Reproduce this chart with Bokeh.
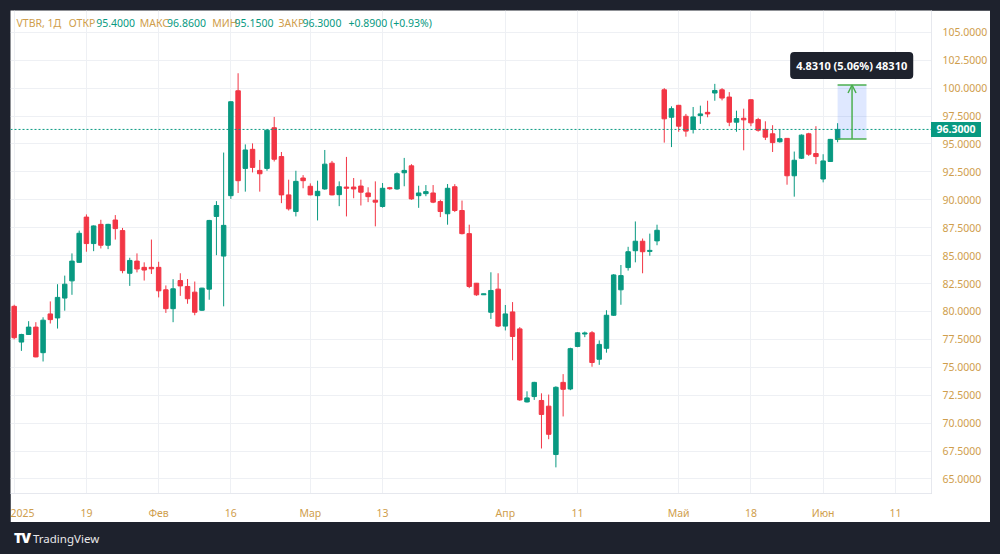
from bokeh.plotting import figure
from bokeh.models import (Range1d, FixedTicker, NumeralTickFormatter, Span, Label,
                          Arrow, OpenHead, Div, ColumnDataSource)
from bokeh.layouts import column
from bokeh.embed import file_html
from bokeh.resources import INLINE

# ---------------- data (VTBR, daily) ----------------
opens = [80.46, 77.26, 77.94, 78.60, 76.31, 79.78, 79.42, 81.20, 82.74, 84.40,
         88.45, 86.08, 87.80, 85.93, 88.19, 87.24, 83.42, 84.51, 83.95, 83.95,
         83.95, 81.94, 80.25, 82.77, 82.24, 81.73, 80.11, 82.00, 88.51, 84.96,
         90.37, 99.76, 92.81, 94.52, 92.63, 92.81, 96.45, 93.87, 90.44, 88.95,
         91.95, 91.21, 90.37, 90.97, 93.28, 90.46, 91.14, 91.14, 91.23, 90.61,
         89.96, 89.40, 91.08, 90.97, 92.42, 93.04, 90.37, 90.55, 90.61, 89.84,
         88.75, 91.17, 89.04, 86.97, 82.53, 81.52, 79.93, 82.00, 78.69, 79.96,
         78.44, 71.90, 72.38, 72.03, 71.52, 67.19, 73.65, 73.06, 76.87, 77.98,
         78.09, 75.72, 76.70, 79.66, 81.94, 83.93, 85.44, 86.29, 85.38, 86.32,
         99.85, 97.39, 98.46, 97.48, 96.30, 97.54, 97.83, 99.56, 99.85, 99.20,
         96.95, 97.30, 98.96, 97.18, 96.30, 95.91, 95.20, 95.50, 92.15, 93.72,
         95.91, 94.14, 91.86, 93.43, 95.40]
highs = [80.60, 78.00, 79.13, 79.04, 79.48, 80.90, 82.44, 83.21, 85.20, 87.24,
         88.69, 87.70, 88.21, 87.85, 88.63, 87.48, 84.81, 85.20, 84.40, 86.44,
         84.45, 82.33, 82.89, 83.42, 82.91, 82.68, 82.12, 88.20, 89.88, 94.23,
         98.80, 101.33, 94.96, 95.05, 93.57, 96.30, 97.42, 94.28, 91.80, 92.60,
         92.21, 91.47, 91.71, 94.46, 93.48, 91.65, 93.84, 91.95, 91.80, 91.12,
         91.65, 91.50, 91.15, 92.45, 93.75, 93.19, 91.26, 91.32, 91.32, 90.00,
         91.41, 91.40, 89.93, 87.77, 82.55, 81.58, 83.51, 83.42, 80.58, 80.84,
         78.60, 72.85, 73.70, 72.67, 72.56, 73.30, 74.39, 76.75, 78.15, 78.20,
         78.24, 77.41, 80.11, 83.35, 84.16, 85.79, 88.06, 86.53, 86.97, 87.77,
         100.00, 98.37, 98.50, 97.69, 98.31, 98.43, 98.87, 100.38, 100.00, 99.64,
         97.98, 98.16, 98.98, 97.34, 97.03, 96.68, 96.30, 95.52, 94.32, 95.85,
         96.00, 96.59, 94.08, 95.45, 96.86]
lows = [77.50, 76.47, 77.90, 75.90, 75.52, 78.92, 78.47, 80.07, 81.49, 84.35,
        85.35, 85.40, 85.64, 85.58, 86.44, 83.42, 82.29, 83.50, 82.77, 83.36,
        81.26, 79.87, 79.04, 81.40, 80.69, 79.66, 80.05, 81.05, 85.04, 80.46,
        90.08, 90.61, 90.73, 92.45, 90.73, 92.60, 93.43, 89.70, 89.04, 88.51,
        91.03, 90.40, 88.15, 90.90, 90.40, 89.43, 88.51, 90.14, 89.49, 89.79,
        87.62, 89.30, 90.90, 90.90, 91.21, 90.00, 89.28, 90.32, 89.70, 88.45,
        87.77, 88.90, 86.90, 82.09, 81.40, 81.50, 79.33, 78.60, 78.30, 75.63,
        72.00, 71.85, 72.08, 67.73, 68.56, 66.04, 70.60, 72.95, 76.80, 77.70,
        75.05, 75.22, 76.31, 79.60, 80.60, 83.66, 84.40, 83.42, 84.99, 85.93,
        95.12, 94.72, 96.09, 95.65, 95.94, 96.80, 97.39, 98.87, 98.90, 96.59,
        96.09, 94.43, 96.59, 96.10, 95.35, 94.28, 95.12, 91.35, 90.28, 93.65,
        93.93, 93.19, 91.56, 93.40, 95.15]
closes = [77.65, 77.94, 78.60, 75.93, 79.22, 79.27, 81.26, 82.44, 84.51, 87.00,
          86.08, 87.66, 85.93, 87.80, 87.42, 83.66, 84.57, 83.80, 83.71, 83.82,
          81.85, 80.25, 82.03, 82.29, 81.14, 79.93, 82.09, 88.15, 89.49, 87.71,
          98.78, 91.71, 94.46, 92.90, 92.33, 96.23, 93.63, 90.44, 89.19, 91.65,
          91.71, 90.44, 90.76, 93.19, 90.44, 91.17, 91.03, 90.97, 90.68, 90.28,
          89.79, 91.03, 90.99, 92.33, 92.63, 90.08, 90.61, 90.73, 89.79, 88.95,
          91.03, 89.04, 86.97, 82.24, 81.49, 81.56, 81.88, 78.69, 79.78, 77.76,
          72.08, 72.26, 73.65, 70.78, 69.00, 73.21, 73.03, 76.67, 78.09, 78.08,
          75.43, 77.05, 79.66, 83.27, 83.21, 85.35, 86.29, 85.35, 85.47, 87.27,
          97.25, 98.16, 96.59, 96.15, 97.42, 97.69, 97.69, 99.79, 99.11, 96.95,
          97.27, 97.16, 96.89, 96.23, 95.61, 95.12, 95.47, 92.15, 93.54, 95.79,
          94.08, 93.87, 93.48, 95.41, 96.30]

# date tick positions (bar index) and their labels
tick_pos = [0, 10, 20, 30, 41, 51, 68, 78, 92, 102, 112, 122]
tick_labels = ["2025", "19", "Фев", "16", "Мар", "13", "Апр", "11", "Май", "18", "Июн", "11"]
price_ticks = [65.0, 67.5, 70.0, 72.5, 75.0, 77.5, 80.0, 82.5, 85.0, 87.5,
               90.0, 92.5, 95.0, 97.5, 100.0, 102.5, 105.0]

# measure tool
measure_from = 95.45
measure_delta = 4.831
measure_text = "4.8310 (5.06%) 48310"

header_parts = [("VTBR, 1Д", "lab", 16), ("ОТКР", "lab", 68.3), ("95.4000", "val", 95.7),
                ("МАКС", "lab", 139.3), ("96.8600", "val", 166.7),
                ("МИН", "lab", 212.0), ("95.1500", "val", 234.3),
                ("ЗАКР", "lab", 278.3), ("96.3000", "val", 302.3),
                ("+0.8900 (+0.93%)", "val", 348.3)]

# ---------------- styling ----------------
UP = "#089981"
DOWN = "#f23645"
GOLD = "#cf9e4c"
DARK = "#1e222d"
FONT = "Noto Sans"
X_END = 127.0
Y_LO, Y_HI = 63.70, 106.95

# page pixel -> data helpers for annotations
def px_x(px):
    return (px - 13.67) / 7.23

def px_y(py):
    return 100.0 - (py - 88.3) / 11.26

n = len(closes)
xs = list(range(n))
colors = [UP if c >= o else DOWN for o, c in zip(opens, closes)]
tops, bots = [], []
for o, c in zip(opens, closes):
    t, b = max(o, c), min(o, c)
    if t - b < 0.09:
        m = (t + b) / 2
        t, b = m + 0.045, m - 0.045
    tops.append(t)
    bots.append(b)

src = ColumnDataSource(dict(x=xs, open=opens, high=highs, low=lows, close=closes,
                            top=tops, bot=bots, color=colors))

FIG_TOP, FIG_H, FRAME_H = 10, 512, 487
p = figure(width=980, height=FIG_H, x_range=Range1d(-0.51, X_END), y_range=Range1d(Y_LO, Y_HI),
           y_axis_location="right", toolbar_location=None, output_backend="svg",
           min_border_left=0, min_border_right=58, min_border_top=0, min_border_bottom=25,
           background_fill_color="white", border_fill_color="white", outline_line_color=None,
           margin=(FIG_TOP, 10, 0, 10))

xt = FixedTicker(ticks=tick_pos)
yt = FixedTicker(ticks=price_ticks)
p.xaxis.ticker = xt
p.xaxis.major_label_overrides = {k: v for k, v in zip(tick_pos, tick_labels)}
p.yaxis.ticker = yt
p.yaxis.formatter = NumeralTickFormatter(format="0.0000")
p.xgrid.ticker = xt
p.ygrid.ticker = yt
p.xgrid.grid_line_color = "#eef0f4"
p.ygrid.grid_line_color = "#eef0f4"
for ax in (p.xaxis[0], p.yaxis[0]):
    ax.axis_line_color = "#e6e8ee"
    ax.major_tick_line_color = None
    ax.minor_tick_line_color = None
    ax.major_label_text_color = GOLD
    ax.major_label_text_font = FONT
    ax.major_label_text_font_size = "10.5px"
p.yaxis.major_label_standoff = 5
p.xaxis.major_label_standoff = 6

# candles
p.segment(x0="x", y0="high", x1="x", y1="low", line_color="color", line_width=1, source=src)
p.vbar(x="x", width=0.62, top="top", bottom="bot", fill_color="color", line_color="color",
       line_width=1, source=src)

# current price line
p.add_layout(Span(location=closes[-1], dimension="width", line_color=UP, line_dash="2 2",
                  line_width=1))

# measure tool
last = n - 1
m_lo = measure_from
m_hi = measure_from + measure_delta
p.quad(left=last, right=last + 4, bottom=m_lo, top=m_hi, fill_color="#2962ff",
       fill_alpha=0.15, line_color=None)
p.segment(x0=[last, last], y0=[m_lo, m_hi], x1=[last + 4, last + 4], y1=[m_lo, m_hi],
          line_color="#4caf50", line_width=1.5)
p.add_layout(Arrow(end=OpenHead(size=8, line_color="#4caf50", line_width=1.5),
                   x_start=last + 2, y_start=m_lo, x_end=last + 2, y_end=m_hi,
                   line_color="#4caf50", line_width=1.5))
p.add_layout(Label(x=px_x(852), y=px_y(65.5), text=measure_text, text_align="center",
                   text_baseline="middle", text_color="white", text_font=FONT,
                   text_font_size="11px", text_font_style="bold",
                   background_fill_color="#1e222d", border_radius=4, padding=6))

# header
for txt, kind, px in header_parts:
    p.add_layout(Label(x=px_x(px), y=px_y(22.7), text=txt, text_align="left",
                       text_baseline="middle", text_color=GOLD if kind == "lab" else UP,
                       text_font=FONT, text_font_size="10.5px"))

# price tag on the price axis (HTML overlay, since annotations are clipped to the frame)
tag_center = FIG_TOP + (Y_HI - closes[-1]) / (Y_HI - Y_LO) * FRAME_H
tag_html = ('<span style="position:fixed;left:931px;top:%.1fpx;width:50px;height:15px;'
            'line-height:15px;text-align:center;font-family:\'Noto Sans\';font-size:10.5px;'
            'font-weight:bold;background:%s;color:#ffffff;z-index:10">%.4f</span>'
            % (tag_center - 7.5, UP, closes[-1]))

logo = Div(text=('<span style="font-family:\'Noto Sans\';font-weight:900;font-size:14px;'
                 'color:#ffffff;letter-spacing:-1px">TV</span>'
                 '<span style="font-family:\'Noto Sans\';font-size:11.5px;color:#e8e8ea;'
                 'margin-left:3px">TradingView</span>' + tag_html),
           width=200, height=22, margin=(8, 0, 0, 14),
           styles={"line-height": "16px"})

layout = column(p, logo, width=1000, height=554, styles={"background-color": DARK})

html = file_html(layout, INLINE, "VTBR")
html = html.replace("<body>", '<body style="margin:0;background:#1e222d;">', 1)
open("out.html", "w").write(html)
